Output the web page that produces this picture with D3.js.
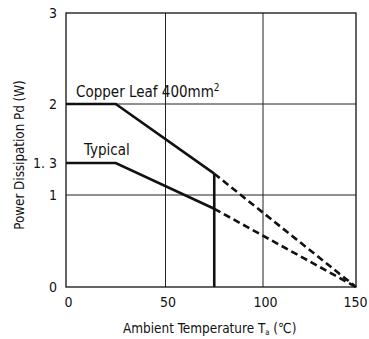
<!DOCTYPE html>
<html><head><meta charset="utf-8">
<script src="https://cdn.jsdelivr.net/npm/d3@7"></script>
<style>
body{margin:0;background:#fff;}
text{font-family:"DejaVu Sans Condensed","Liberation Sans Narrow","Liberation Sans",sans-serif;fill:#111;}
</style></head><body>
<svg id="c" width="369" height="339"></svg>
<script>
const xTicks = [0, 50, 100, 150];
const yTicks = [0, 1, 1.3, 2, 3];
const yTickLabels = ["0", "1", "1. 3", "2", "3"];
const copperSolid = [[0, 2], [25, 2], [75, 1.2]];
const copperDashed = [[75, 1.2], [150, 0]];
const typicalSolid = [[0, 1.3], [25, 1.3], [75, 0.85]];
const typicalDashed = [[75, 0.85], [150, 0]];
const cutoff = [[75, 0], [75, 1.2]];

const svg = d3.select("#c");
const x = d3.scaleLinear().domain([0, 50, 100, 150]).range([66, 165.5, 263, 356]);
const y = d3.scaleLinear().domain([0, 1, 1.3, 2, 3]).range([287, 195, 163, 104, 13]);

// grid
svg.append("g").selectAll("line").data([50, 100]).join("line")
  .attr("x1", d => x(d)).attr("x2", d => x(d)).attr("y1", y(0)).attr("y2", y(3))
  .attr("stroke", "#222").attr("stroke-width", 1);
svg.append("g").selectAll("line").data([1, 2]).join("line")
  .attr("x1", x(0)).attr("x2", x(150)).attr("y1", d => y(d)).attr("y2", d => y(d))
  .attr("stroke", "#222").attr("stroke-width", 1);
// frame
svg.append("rect").attr("x", x(0)).attr("y", y(3)).attr("width", x(150) - x(0)).attr("height", y(0) - y(3))
  .attr("fill", "none").attr("stroke", "#111").attr("stroke-width", 1.3);

// axes
const xa = svg.append("g").attr("transform", `translate(0,${y(0)})`)
  .call(d3.axisBottom(x).tickValues(xTicks).tickSize(0).tickPadding(10).tickFormat(d3.format("d")));
xa.selectAll(".tick text").attr("dx", d => d === 150 ? -1 : 2);
const ya = svg.append("g").attr("transform", `translate(${x(0)},0)`)
  .call(d3.axisLeft(y).tickValues(yTicks).tickSize(0).tickPadding(9).tickFormat((d, i) => yTickLabels[i]));
[xa, ya].forEach(a => { a.select(".domain").remove(); a.selectAll("line").remove();
  a.selectAll("text").attr("font-size", 14).attr("fill", "#111")
  .style("font-family", '"DejaVu Sans Condensed","Liberation Sans Narrow",sans-serif'); });

const line = d3.line().x(d => x(d[0])).y(d => y(d[1]));
const g = svg.append("g").attr("fill", "none").attr("stroke", "#111").attr("stroke-width", 2.6);
g.append("path").attr("d", line(copperSolid));
g.append("path").attr("d", line(typicalSolid));
g.append("path").attr("d", line(cutoff));
g.append("path").attr("d", line(copperDashed)).attr("stroke-dasharray", "7,4");
g.append("path").attr("d", line(typicalDashed)).attr("stroke-dasharray", "7,4");

// labels
const cl = svg.append("text").attr("x", 76).attr("y", 97).attr("font-size", 15);
cl.append("tspan").text("Copper Leaf 400mm");
cl.append("tspan").text("2").attr("font-size", 10).attr("dy", -6);
svg.append("text").attr("x", 84).attr("y", 155).attr("font-size", 15).text("Typical");

// titles
svg.append("text").attr("transform", `translate(24,155) rotate(-90) scale(0.95,1)`)
  .attr("text-anchor", "middle").attr("font-size", 14).text("Power Dissipation Pd (W)");
const xt = svg.append("text").attr("transform", "translate(123,333) scale(0.96,1)").attr("font-size", 14);
xt.append("tspan").text("Ambient Temperature T");
xt.append("tspan").text("a").attr("font-size", 8).attr("dy", 2);
xt.append("tspan").text(" (℃)").attr("dy", -2);
</script></body></html>
